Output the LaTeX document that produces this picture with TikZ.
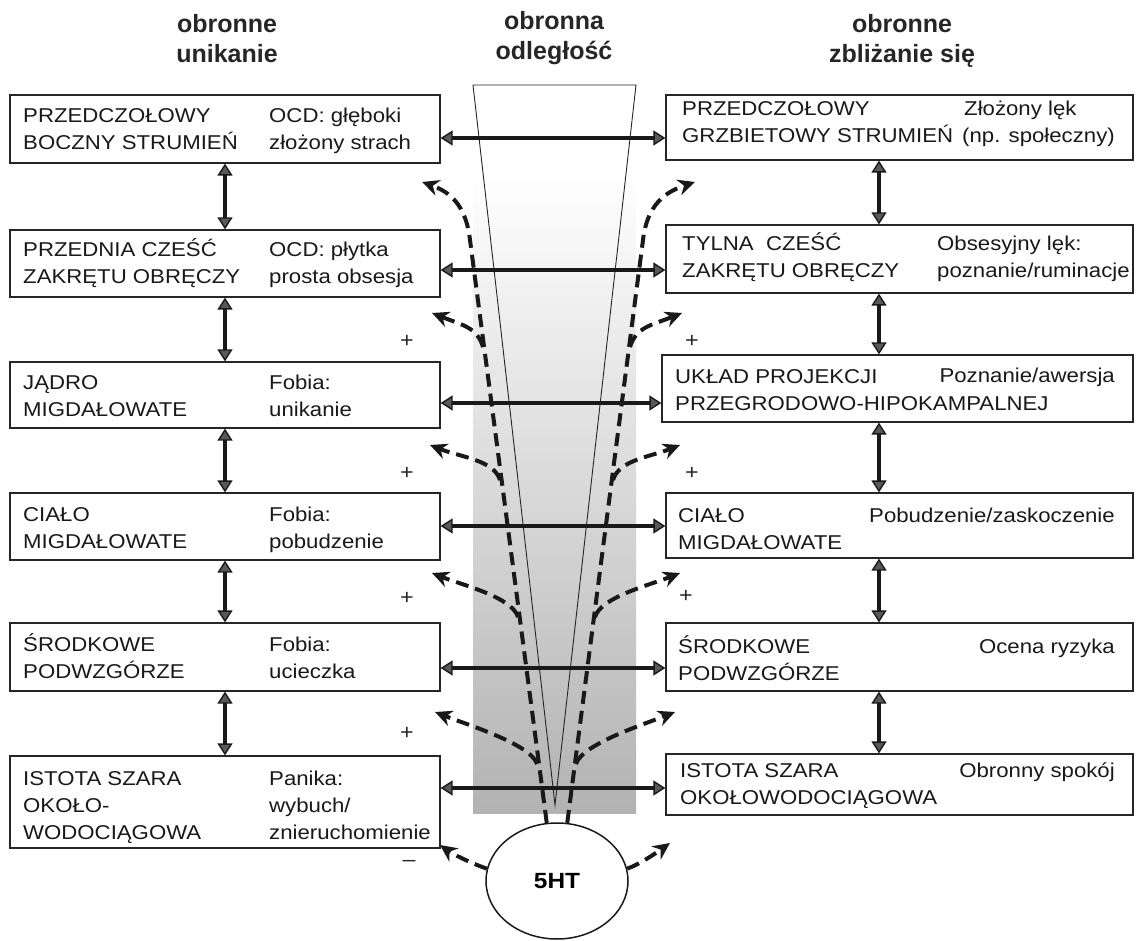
\documentclass[tikz,border=0pt]{standalone}
\usepackage{fontspec}
\setmainfont{Liberation Sans}[FakeStretch=1.11]
\newfontfamily\hdrfont{Liberation Sans}
\usetikzlibrary{arrows.meta,shapes.geometric}
\tikzset{
  box/.style={draw=black!85, line width=1.3pt, fill=white, rectangle, inner sep=0pt},
  txt/.style={font=\fontsize{20}{27}\selectfont, align=left, anchor=base west, inner sep=0pt, text=black!90},
  rtxt/.style={txt, align=right, anchor=base east},
  hdr/.style={font=\hdrfont\bfseries\fontsize{25}{30}\selectfont, align=center, anchor=base, inner sep=0pt, text=black!85},
  dbl/.style={line width=3.8pt, black!90,
    {Triangle[length=12pt,width=15pt,fill=black!65,line width=1.4pt]}-{Triangle[length=12pt,width=15pt,fill=black!65,line width=1.4pt]}},
  das/.style={line width=4pt, black!90, dash pattern=on 13pt off 7pt, -{Stealth[length=17pt,width=16pt]}},
  pl/.style={font=\fontsize{21}{21}\selectfont, inner sep=0pt, text=black!85},
}
\begin{document}
\begin{tikzpicture}[x=1pt,y=-1pt]
\useasboundingbox (0,0) rectangle (1136,941);

% gradient band and triangle
\shade[top color=white, bottom color=black!30] (473,173) rectangle (636,813);
\draw[line width=0.9pt, black!85] (473,85) -- (636,85) -- (555,805) -- cycle;

% headers (anchor = baseline of last line)
\node[hdr] (hL) at (227,63) {obronne\\unikanie};
\node[hdr] (hC) at (554,60) {obronna\\odległość};
\node[hdr] (hR) at (902,63) {obronne\\zbliżanie się};

% ellipse 5HT
\node[ellipse, draw=black!90, line width=1.5pt, fill=white, minimum width=142pt, minimum height=116pt, inner sep=0pt,
      font=\bfseries\fontsize{22}{24}\selectfont] (h) at (557,881) {5HT};

% dashed arrows: main lines
\coordinate (lm) at (470,240); \coordinate (lt0) at (422,182);
\coordinate (rm) at (643,240); \coordinate (rt0) at (695,182);
\draw[das] (h.100) -- (lm) .. controls (466,205) and (450,192) .. (lt0);
\draw[das] (h.80) -- (rm) .. controls (647,205) and (665,192) .. (rt0);

% branches
\coordinate (lb1) at (483,347); \coordinate (lt1) at (432,313);
\coordinate (lb2) at (500,480); \coordinate (lt2) at (430,445);
\coordinate (lb3) at (518,617); \coordinate (lt3) at (432,573);
\coordinate (lb4) at (537,764); \coordinate (lt4) at (435,712);
\coordinate (lt5) at (440,845);
\coordinate (rb1) at (630,347); \coordinate (rt1) at (682,313);
\coordinate (rb2) at (613,480); \coordinate (rt2) at (680,445);
\coordinate (rb3) at (595,617); \coordinate (rt3) at (680,573);
\coordinate (rb4) at (576,764); \coordinate (rt4) at (675,712);
\coordinate (rt5) at (670,843);
\foreach \a/\b in {lb1/lt1,lb2/lt2,lb3/lt3,lb4/lt4}{
  \draw[das] (\a) .. controls +(-6,-20) and +(30,12) .. (\b);}
\foreach \a/\b in {rb1/rt1,rb2/rt2,rb3/rt3,rb4/rt4}{
  \draw[das] (\a) .. controls +(6,-20) and +(-30,12) .. (\b);}
\draw[das] (h.170) .. controls +(-12,-4) and +(14,10) .. (lt5);
\draw[das] (h.10) .. controls +(12,-4) and +(-14,10) .. (rt5);

% left boxes
\node[box, minimum width=430pt, minimum height=68pt] (L1) at (225,129) {};
\node[box, minimum width=430pt, minimum height=67pt] (L2) at (225,263.5) {};
\node[box, minimum width=430pt, minimum height=66pt] (L3) at (225,395) {};
\node[box, minimum width=430pt, minimum height=67pt] (L4) at (225,526.5) {};
\node[box, minimum width=430pt, minimum height=68pt] (L5) at (225,657) {};
\node[box, minimum width=430pt, minimum height=92pt] (L6) at (225,802) {};
% right boxes
\node[box, minimum width=467pt, minimum height=65pt] (R1) at (899.5,127.5) {};
\node[box, minimum width=467pt, minimum height=68pt] (R2) at (899.5,259) {};
\node[box, minimum width=471pt, minimum height=67pt] (R3) at (897.5,388.5) {};
\node[box, minimum width=467pt, minimum height=65pt] (R4) at (899.5,525.5) {};
\node[box, minimum width=467pt, minimum height=68pt] (R5) at (899.5,657) {};
\node[box, minimum width=467pt, minimum height=61pt] (R6) at (899.5,784.5) {};

% left texts (anchor = baseline of last line)
\node[txt] (l1a) at (23,150) {PRZEDCZOŁOWY\\BOCZNY STRUMIEŃ};
\node[txt] (l1b) at (269,150) {OCD: głęboki\\złożony strach};
\node[txt] (l2a) at (23,284) {PRZEDNIA CZEŚĆ\\ZAKRĘTU OBRĘCZY};
\node[txt] (l2b) at (269,284) {OCD: płytka\\prosta obsesja};
\node[txt] (l3a) at (23,417) {JĄDRO\\MIGDAŁOWATE};
\node[txt] (l3b) at (269,417) {Fobia:\\unikanie};
\node[txt] (l4a) at (23,548) {CIAŁO\\MIGDAŁOWATE};
\node[txt] (l4b) at (269,548) {Fobia:\\pobudzenie};
\node[txt] (l5a) at (23,678) {ŚRODKOWE\\PODWZGÓRZE};
\node[txt] (l5b) at (269,678) {Fobia:\\ucieczka};
\node[txt] (l6a) at (23,839) {ISTOTA SZARA\\OKOŁO-\\WODOCIĄGOWA};
\node[txt] (l6b) at (269,839) {Panika:\\wybuch/\\znieruchomienie};

% right texts
\node[txt] (r1a) at (682,143) {PRZEDCZOŁOWY\\GRZBIETOWY STRUMIEŃ};
\node[txt] (r1b) at (964,116) {Złożony lęk};
\node[rtxt] (r1c) at (1115,143) {(np. społeczny)};
\node[txt] (r2a) at (682,278) {TYLNA\ \ CZEŚĆ\\ZAKRĘTU OBRĘCZY};
\node[txt] (r2b) at (937,278) {Obsesyjny lęk:\\poznanie/ruminacje};
\node[txt] (r3a) at (675,410) {UKŁAD PROJEKCJI\\PRZEGRODOWO-HIPOKAMPALNEJ};
\node[rtxt] (r3b) at (1115,383) {Poznanie/awersja};
\node[txt] (r4a) at (678,549) {CIAŁO\\MIGDAŁOWATE};
\node[rtxt] (r4b) at (1115,522) {Pobudzenie/zaskoczenie};
\node[txt] (r5a) at (678,680) {ŚRODKOWE\\PODWZGÓRZE};
\node[rtxt] (r5b) at (1115,653) {Ocena ryzyka};
\node[txt] (r6a) at (680,804) {ISTOTA SZARA\\OKOŁOWODOCIĄGOWA};
\node[rtxt] (r6b) at (1115,777) {Obronny spokój};

% horizontal double arrows
\coordinate (y1) at (0,138); \coordinate (y2) at (0,270); \coordinate (y3) at (0,403);
\coordinate (y4) at (0,526); \coordinate (y5) at (0,668); \coordinate (y6) at (0,788);
\foreach \i in {1,...,6}{
  \draw[dbl] (L\i.east |- y\i) -- (R\i.west |- y\i);}

% vertical double arrows
\coordinate (vx) at (879,0);
\foreach \i/\j in {1/2,2/3,3/4,4/5,5/6}{
  \draw[dbl] (L\i.south) -- (L\j.north);
  \draw[dbl] (R\i.south -| vx) -- (R\j.north -| vx);}

% signs
\node[pl] (p1) at (407,341) {+};
\node[pl] (p2) at (407,473) {+};
\node[pl] (p3) at (407,598) {+};
\node[pl] (p4) at (407,733) {+};
\node[pl] (p5) at (692,341) {+};
\node[pl] (p6) at (692,473) {+};
\node[pl] (p7) at (686,596) {+};
\node[pl] (m1) at (409,863) {–};
\end{tikzpicture}
\end{document}
